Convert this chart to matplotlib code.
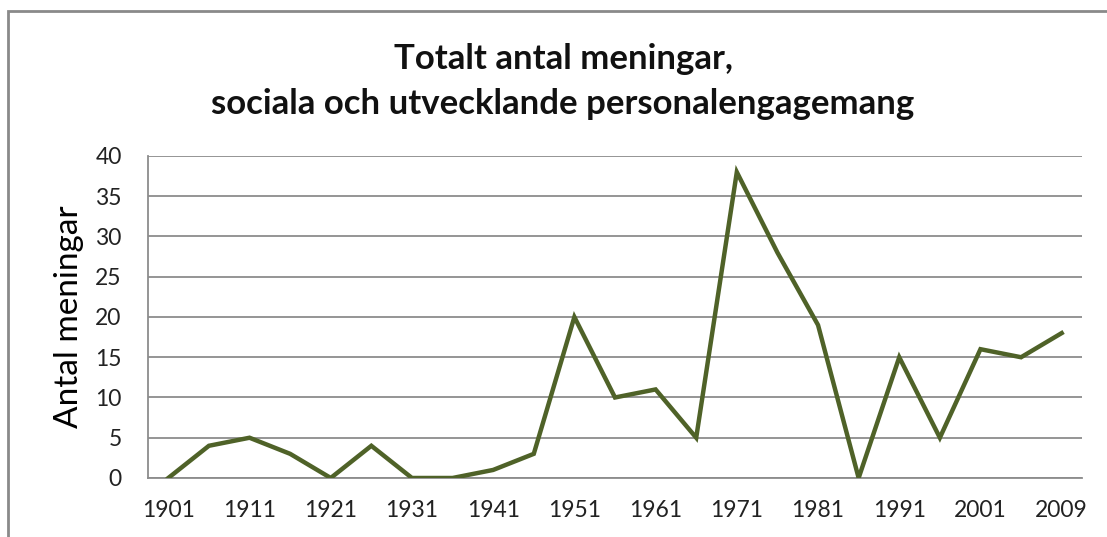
import matplotlib.pyplot as plt
from matplotlib.patches import Rectangle

years = [1901, 1906, 1911, 1916, 1921, 1926, 1931, 1936, 1941, 1946, 1951, 1956,
         1961, 1966, 1971, 1976, 1981, 1986, 1991, 1996, 2001, 2006, 2009]
antal = [0, 4, 5, 3, 0, 4, 0, 0, 1, 3, 20, 10, 11, 5, 38, 28, 19, 0, 15, 5, 16, 15, 18]
y_ticks = [0, 5, 10, 15, 20, 25, 30, 35, 40]

plt.rcParams['font.family'] = ['Lato', 'DejaVu Sans']

fig = plt.figure(figsize=(11.07, 5.37), dpi=100)
ax = fig.add_axes([0.1337, 0.1099, 0.8437, 0.5996])

x = list(range(len(years)))
ax.plot(x, antal, color='#4f6228', linewidth=3.2, solid_joinstyle='miter', zorder=3)

ax.set_xlim(-0.5, len(years) - 0.5)
ax.set_ylim(0, 40)
ax.set_yticks(y_ticks)
ax.set_xticks(x[::2])
ax.set_xticklabels([str(years[i]) for i in x[::2]])
ax.tick_params(axis='both', length=0, labelsize=16.5, colors='#222222')
ax.tick_params(axis='x', pad=16)
ax.tick_params(axis='y', pad=19)
ax.yaxis.grid(True, color='#8c8c8c', linewidth=1.3)
ax.set_axisbelow(True)

for side in ['top', 'right']:
    ax.spines[side].set_visible(False)
ax.spines['left'].set_color('#8c8c8c')
ax.spines['bottom'].set_color('#8c8c8c')
ax.spines['left'].set_linewidth(1.3)
ax.spines['bottom'].set_linewidth(1.3)

ax.set_ylabel('Antal meningar', fontsize=24)
ax.yaxis.set_label_coords(-0.069, 0.5)

fig.text(0.5086, 0.849, 'Totalt antal meningar,\nsociala och utvecklande personalengagemang',
         ha='center', va='center', fontsize=25, fontweight='bold',
         linespacing=1.5, color='#111111')

# gray outer frame, cut off at right and bottom like the reference
fig.add_artist(Rectangle((8 / 1107, -0.1), 1.2, 1 - 11 / 537 + 0.1,
                         transform=fig.transFigure, fill=False,
                         edgecolor='#8a8a8a', linewidth=2))

fig.savefig('out.png', dpi=100)
